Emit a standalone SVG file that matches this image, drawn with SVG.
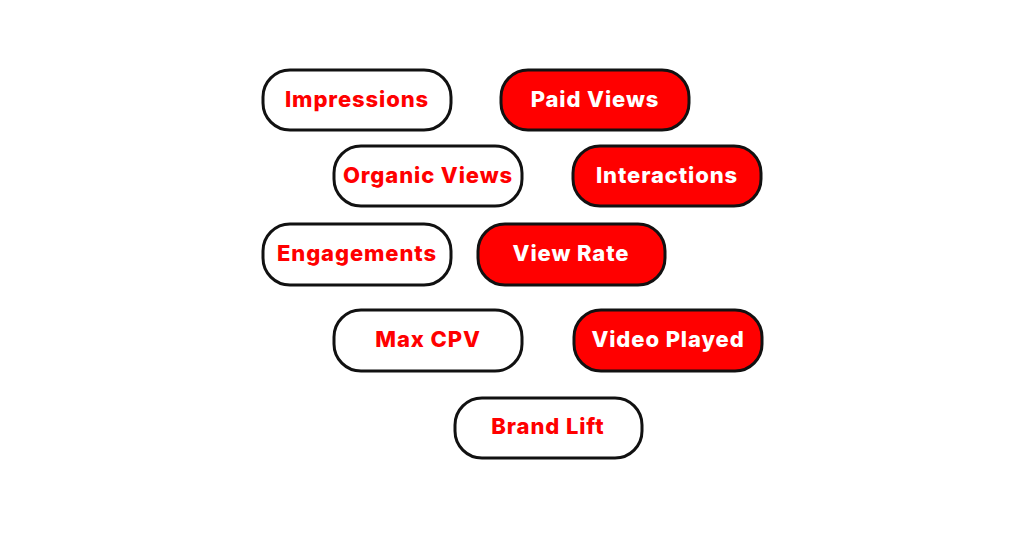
<svg xmlns="http://www.w3.org/2000/svg" width="1024" height="538" viewBox="0 0 1024 538">
<style>
.box{stroke:#111;stroke-width:3}
.w{fill:#fff}
.r{fill:#ff0000}
text{font-family:Inter,"Liberation Sans",sans-serif;font-weight:800;font-size:22px;letter-spacing:0.9px;text-anchor:middle}
.tw{fill:#ff0000}
.tr{fill:#fff}
</style>
<rect width="1024" height="538" fill="#fff"/>
<g id="impressions"><rect class="box w" x="263" y="70" width="188" height="60" rx="27"/><text class="tw" x="357" y="107">Impressions</text></g>
<g id="paid-views"><rect class="box r" x="501" y="70" width="188" height="60" rx="27"/><text class="tr" x="595" y="107">Paid Views</text></g>
<g id="organic-views"><rect class="box w" x="334" y="146" width="188" height="60" rx="27"/><text class="tw" x="428" y="183">Organic Views</text></g>
<g id="interactions"><rect class="box r" x="573" y="146" width="188" height="60" rx="27"/><text class="tr" x="667" y="183">Interactions</text></g>
<g id="engagements"><rect class="box w" x="263" y="224" width="188" height="61" rx="27"/><text class="tw" x="357" y="261">Engagements</text></g>
<g id="view-rate"><rect class="box r" x="478" y="224" width="187" height="61" rx="27"/><text class="tr" x="571" y="261">View Rate</text></g>
<g id="max-cpv"><rect class="box w" x="334" y="310" width="188" height="61" rx="27"/><text class="tw" x="428" y="347">Max CPV</text></g>
<g id="video-played"><rect class="box r" x="574" y="310" width="188" height="61" rx="27"/><text class="tr" x="668" y="347">Video Played</text></g>
<g id="brand-lift"><rect class="box w" x="455" y="398" width="187" height="60" rx="27"/><text class="tw" x="548" y="434">Brand Lift</text></g>
<g id="connectors"/>
</svg>
